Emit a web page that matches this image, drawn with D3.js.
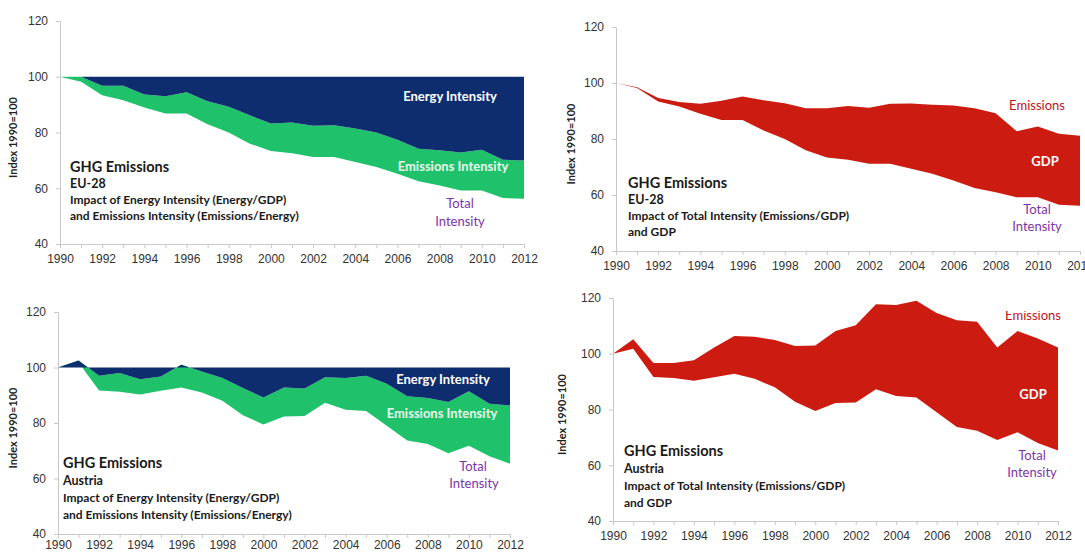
<!DOCTYPE html>
<html>
<head>
<meta charset="utf-8">
<script src="https://cdn.jsdelivr.net/npm/d3@7"></script>
<style>
  html, body { margin: 0; padding: 0; background: #fff; }
  svg { display: block; font-family: Lato, "Open Sans", sans-serif; }
  .axis path, .axis line { stroke: #c8c8c8; }
  .axis text { fill: #333; font-size: 12px; }
</style>
</head>
<body>
<svg id="chart" width="1085" height="554"></svg>
<script>
// Years on the x axis
const years = [1990, 1991, 1992, 1993, 1994, 1995, 1996, 1997, 1998, 1999, 2000,
               2001, 2002, 2003, 2004, 2005, 2006, 2007, 2008, 2009, 2010, 2011, 2012];
const xLabelYears = [1990, 1992, 1994, 1996, 1998, 2000, 2002, 2004, 2006, 2008, 2010, 2012];
const yTicks = [40, 60, 80, 100, 120];

// EU-28, index 1990 = 100
const euEnergyIntensity = [100, 100, 96.8, 96.8, 93.6, 93, 94.4, 91.2, 89.2, 86.2, 83.2,
                           83.6, 82.4, 82.6, 81.4, 80, 77.4, 74.2, 73.6, 72.8, 73.8, 70.2, 70];
const euTotalIntensity  = [100, 98.2, 93.4, 91.6, 89, 86.8, 86.8, 83, 80, 76, 73.4,
                           72.6, 71.2, 71.2, 69.4, 67.6, 65.2, 62.5, 61, 59.2, 59.2, 56.5, 56.2];
const euEmissions       = [100, 98.5, 94.6, 93.2, 92.6, 93.7, 95.2, 93.8, 92.8, 91, 91,
                           91.8, 91.2, 92.6, 92.7, 92.2, 92, 91, 89.2, 82.8, 84.5, 81.9, 81.2];

// Austria, index 1990 = 100
const atEnergyIntensity = [100, 102.5, 97, 98, 95.8, 96.8, 101, 98.6, 96.2, 92.6, 89.2,
                           92.8, 92.4, 96.5, 96.2, 97, 94.1, 89.6, 89, 87.6, 91.4, 86.9, 86.3];
const atTotalIntensity  = [100, 101.8, 91.7, 91.3, 90.3, 91.6, 92.8, 91, 88, 82.8, 79.5,
                           82.3, 82.5, 87.3, 84.8, 84.3, 79, 73.7, 72.4, 69.1, 71.8, 68, 65.3];
const atEmissions       = [100, 105.2, 96.7, 96.7, 97.7, 102.2, 106.4, 106.1, 104.9, 102.8, 103,
                           108.2, 110.2, 117.8, 117.5, 119, 114.6, 112, 111.5, 102.2, 108.2, 105.5, 102.2];

const NAVY = "#0e2d6f", GREEN = "#1fc26a", RED = "#cc1b10", PURPLE = "#7a35a8", DARKRED = "#c0141b";

const svg = d3.select("#chart");

// Clip for the partly hidden label in the lower-right panel
svg.append("defs").append("clipPath").attr("id", "clipLowerRight")
  .append("rect").attr("x", 560).attr("y", 311).attr("width", 525).attr("height", 243);

const panels = [
  { kind: "intensity", x0: 60, x1: 524, yTop: 21, yBot: 244, yTitleX: 17, xPad: 6,
    upper: euEnergyIntensity, lower: euTotalIntensity,
    notes: ["GHG Emissions", "EU-28", "Impact of Energy Intensity (Energy/GDP)", "and Emissions Intensity (Emissions/Energy)"],
    noteX: 70, noteY: [172, 188, 204, 220],
    labels: [
      { t: "Energy Intensity", x: 450, y: 101, fill: "#fff", weight: 700 },
      { t: "Emissions Intensity", x: 453, y: 171, fill: "#e8f8ee", weight: 700 },
      { t: "Total", x: 460, y: 208, fill: PURPLE, weight: 400 },
      { t: "Intensity", x: 460, y: 226, fill: PURPLE, weight: 400 } ] },
  { kind: "gdp", x0: 616, x1: 1080, yTop: 27, yBot: 251, yTitleX: 575, xPad: 6,
    upper: euEmissions, lower: euTotalIntensity,
    notes: ["GHG Emissions", "EU-28", "Impact of Total Intensity (Emissions/GDP)", "and GDP"],
    noteX: 628, noteY: [188, 204, 220, 236],
    labels: [
      { t: "Emissions", x: 1037, y: 110, fill: DARKRED, weight: 400 },
      { t: "GDP", x: 1045, y: 166, fill: "#fff", weight: 700 },
      { t: "Total", x: 1037, y: 214, fill: PURPLE, weight: 400 },
      { t: "Intensity", x: 1037, y: 231, fill: PURPLE, weight: 400 } ] },
  { kind: "intensity", x0: 58, x1: 510, yTop: 312, yBot: 534, yTitleX: 17, xPad: 2,
    upper: atEnergyIntensity, lower: atTotalIntensity,
    notes: ["GHG Emissions", "Austria", "Impact of Energy Intensity (Energy/GDP)", "and Emissions Intensity (Emissions/Energy)"],
    noteX: 63, noteY: [468, 485, 502, 519],
    labels: [
      { t: "Energy Intensity", x: 443, y: 384, fill: "#fff", weight: 700 },
      { t: "Emissions Intensity", x: 442, y: 418, fill: "#e8f8ee", weight: 700 },
      { t: "Total", x: 473, y: 471, fill: PURPLE, weight: 400 },
      { t: "Intensity", x: 474, y: 488, fill: PURPLE, weight: 400 } ] },
  { kind: "gdp", x0: 613, x1: 1058, yTop: 298, yBot: 521, yTitleX: 566, xPad: 6,
    upper: atEmissions, lower: atTotalIntensity,
    notes: ["GHG Emissions", "Austria", "Impact of Total Intensity (Emissions/GDP)", "and GDP"],
    noteX: 624, noteY: [456, 473, 490, 507],
    labels: [
      { t: "Emissions", x: 1033, y: 320, fill: DARKRED, weight: 400, clip: true },
      { t: "GDP", x: 1033, y: 399, fill: "#fff", weight: 700 },
      { t: "Total", x: 1032, y: 460, fill: PURPLE, weight: 400 },
      { t: "Intensity", x: 1032, y: 477, fill: PURPLE, weight: 400 } ] }
];

panels.forEach(p => {
  const g = svg.append("g");
  const x = d3.scaleLinear().domain([1990, 2012]).range([p.x0, p.x1]);
  const y = d3.scaleLinear().domain([40, 120]).range([p.yBot, p.yTop]);
  const rows = years.map((yr, i) => ({ yr, up: p.upper[i], lo: p.lower[i] }));

  if (p.kind === "intensity") {
    // Emissions intensity band: between energy intensity and total intensity
    g.append("path").datum(rows).attr("fill", GREEN)
      .attr("d", d3.area().x(d => x(d.yr)).y0(d => y(d.lo)).y1(d => y(d.up)));
    // Energy intensity band: between the 1990 level and energy intensity
    g.append("path").datum(rows).attr("fill", NAVY)
      .attr("d", d3.area().x(d => x(d.yr)).y0(d => y(d.up)).y1(() => y(100)));
  } else {
    // GDP effect: between total intensity and emissions
    g.append("path").datum(rows).attr("fill", RED)
      .attr("d", d3.area().x(d => x(d.yr)).y0(d => y(d.lo)).y1(d => y(d.up)));
  }

  // Axes
  g.append("g").attr("class", "axis")
    .attr("transform", `translate(${p.x0},0)`)
    .call(d3.axisLeft(y).tickValues(yTicks).tickSize(4).tickPadding(8).tickSizeOuter(0));
  g.append("g").attr("class", "axis")
    .attr("transform", `translate(0,${p.yBot})`)
    .call(d3.axisBottom(x).tickValues(years).tickSize(4).tickPadding(p.xPad).tickSizeOuter(0)
      .tickFormat(d => xLabelYears.includes(d) ? d : ""));

  // Y axis title
  g.append("text")
    .attr("transform", `translate(${p.yTitleX},${(p.yTop + p.yBot) / 2 + 5}) rotate(-90)`)
    .attr("text-anchor", "middle").attr("font-size", 11).attr("font-weight", 700)
    .attr("fill", "#222").text("Index 1990=100");

  // Panel description
  const sizes = [14.5, 12.5, 12, 12];
  p.notes.forEach((t, i) => {
    g.append("text").attr("x", p.noteX).attr("y", p.noteY[i])
      .attr("font-size", sizes[i]).attr("font-weight", 700).attr("fill", "#1a1a1a").text(t);
  });

  // Band labels
  p.labels.forEach(l => {
    const t = g.append("text").attr("x", l.x).attr("y", l.y).attr("text-anchor", "middle")
      .attr("font-size", 13).attr("font-weight", l.weight).attr("fill", l.fill).text(l.t);
    if (l.clip) t.attr("clip-path", "url(#clipLowerRight)");
  });
});
</script>
</body>
</html>
